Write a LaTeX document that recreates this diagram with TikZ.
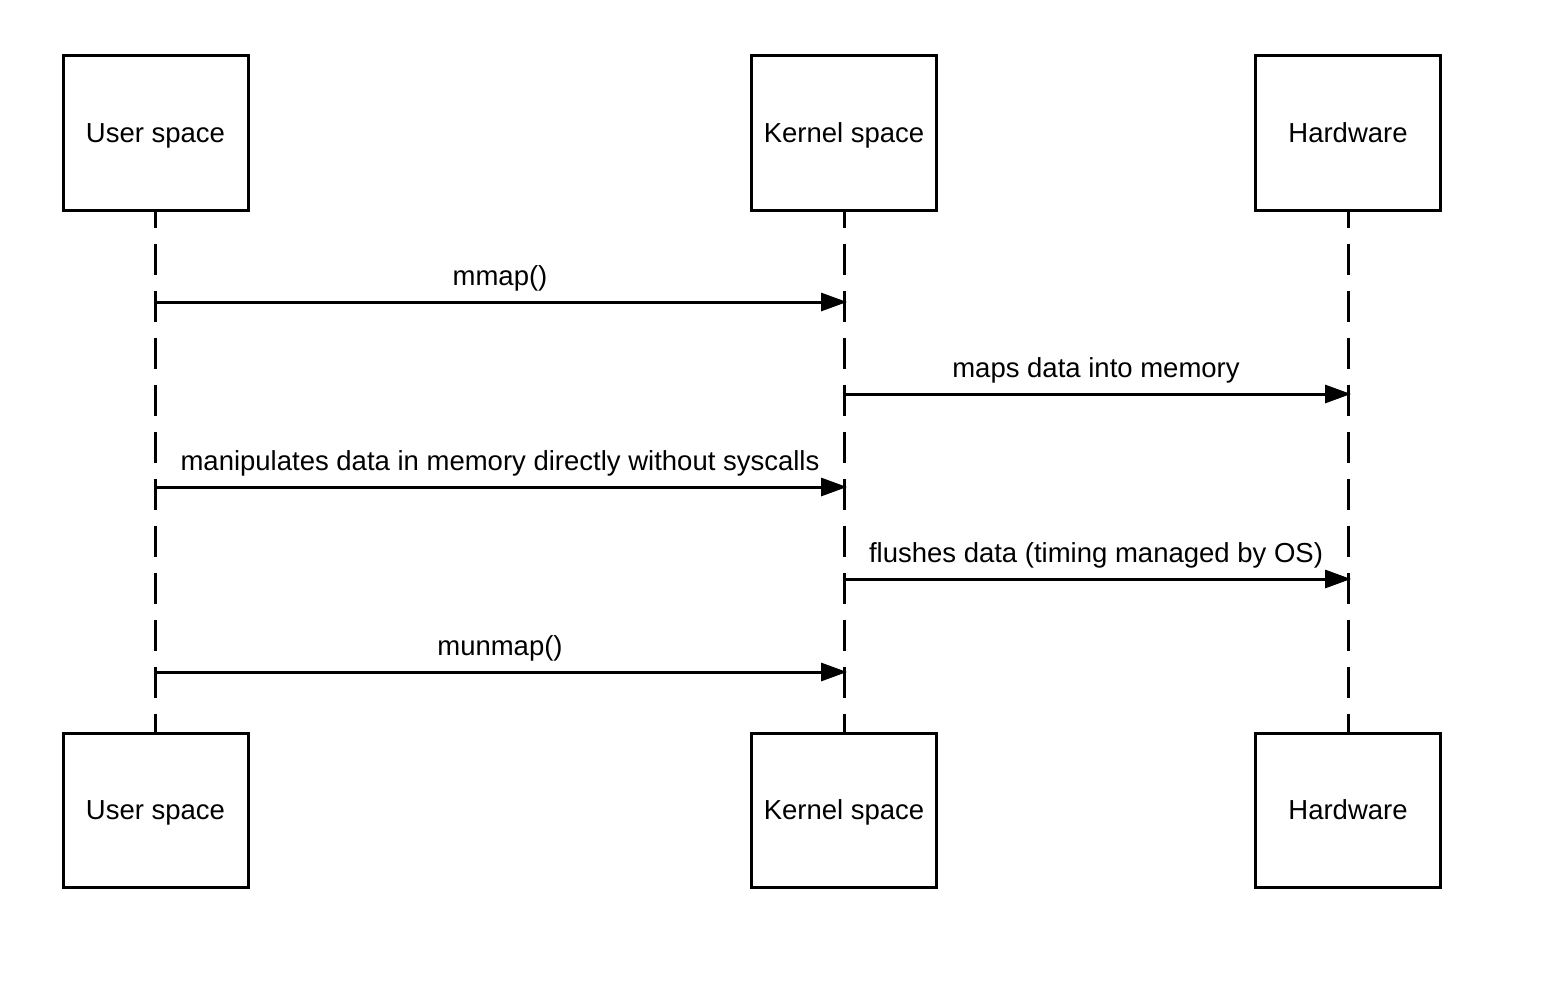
\documentclass[tikz,border=0pt]{standalone}
\usepackage{fontspec}
\setmainfont{Liberation Sans}
\usetikzlibrary{arrows.meta}
\begin{document}
\begin{tikzpicture}[x=1pt,y=-1pt,
  actor/.style={draw,line width=3pt,minimum width=185pt,minimum height=154pt,inner sep=0pt},
  lifeline/.style={line width=3pt,dash pattern=on 31pt off 16pt,dash phase=15pt},
  msg/.style={line width=3pt,-{Triangle[length=26pt,width=18pt]},shorten >=-3pt},
  lbl/.style={anchor=base,font=\fontsize{27.5}{32}\selectfont}]
\fill[white] (0,0) rectangle (1566,990);
\useasboundingbox (0,0) rectangle (1566,990);
% actor boxes
\node[actor] (u1) at (155.5,133) {};
\node[actor] (k1) at (844,133) {};
\node[actor] (h1) at (1348,133) {};
\node[actor] (u2) at (155.5,810) {};
\node[actor] (k2) at (844,810) {};
\node[actor] (h2) at (1348,810) {};
\node[lbl] (tu1) at (155.5,142) {User space};
\node[lbl] (tk1) at (844,142) {Kernel space};
\node[lbl] (th1) at (1348,142) {Hardware};
\node[lbl] (tu2) at (155.5,819) {User space};
\node[lbl] (tk2) at (844,819) {Kernel space};
\node[lbl] (th2) at (1348,819) {Hardware};
% lifelines
\draw[lifeline] (u1.south) -- (u2.north);
\draw[lifeline] (k1.south) -- (k2.north);
\draw[lifeline] (h1.south) -- (h2.north);
% message anchors
\coordinate (a1s) at (155.5,302); \coordinate (a1e) at (844,302);
\coordinate (a2s) at (844,394);   \coordinate (a2e) at (1348,394);
\coordinate (a3s) at (155.5,487); \coordinate (a3e) at (844,487);
\coordinate (a4s) at (844,579);   \coordinate (a4e) at (1348,579);
\coordinate (a5s) at (155.5,672); \coordinate (a5e) at (844,672);
\draw[msg] (a1s) -- (a1e);
\draw[msg] (a2s) -- (a2e);
\draw[msg] (a3s) -- (a3e);
\draw[msg] (a4s) -- (a4e);
\draw[msg] (a5s) -- (a5e);
% message labels
\node[lbl] (l1) at (500,285) {mmap()};
\node[lbl] (l2) at (1096,377) {maps data into memory};
\node[lbl] (l3) at (500,470) {manipulates data in memory directly without syscalls};
\node[lbl] (l4) at (1096,562) {flushes data (timing managed by OS)};
\node[lbl] (l5) at (500,655) {munmap()};
\end{tikzpicture}
\end{document}
